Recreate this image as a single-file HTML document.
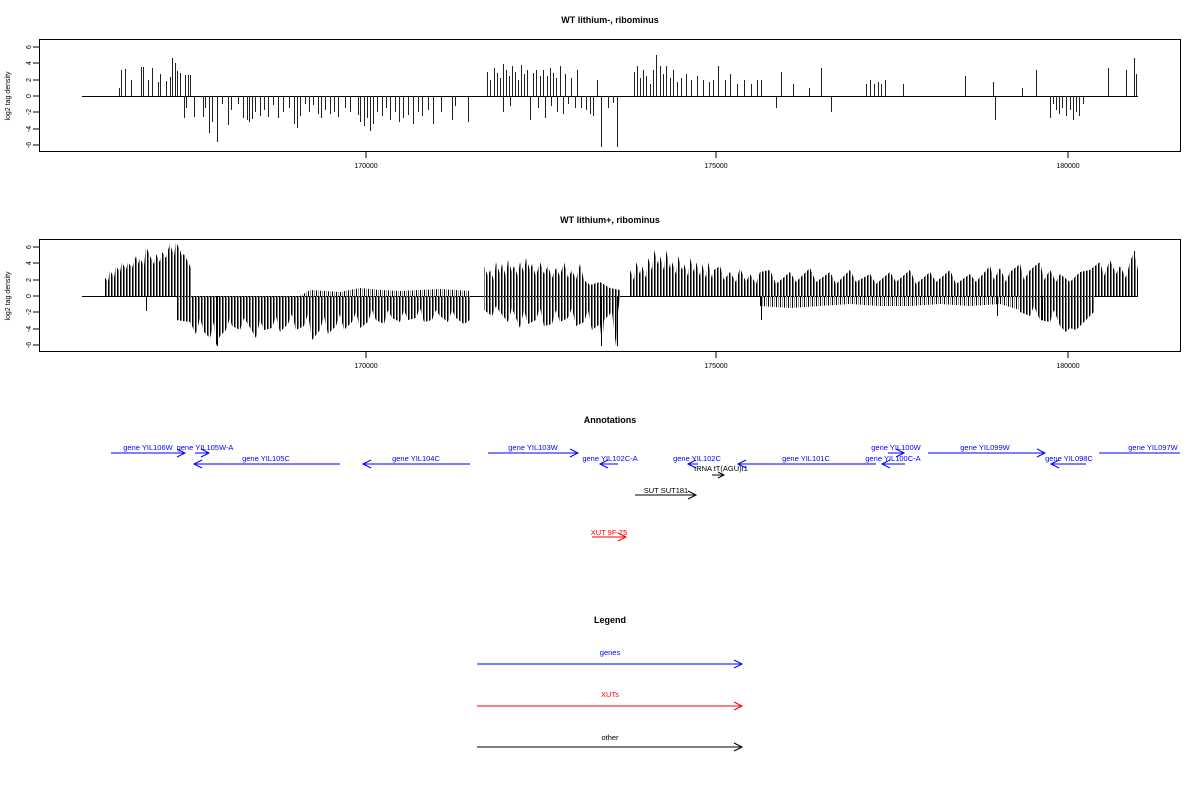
<!DOCTYPE html>
<html><head><meta charset="utf-8"><style>
body{margin:0;background:#fff}
svg{display:block;font-family:"Liberation Sans",sans-serif}
</style></head><body>
<svg width="1200" height="800" xmlns="http://www.w3.org/2000/svg">
<defs>
<pattern id="h" width="3" height="10" patternUnits="userSpaceOnUse"><rect x="0" y="0" width="1" height="10" fill="#000"/><rect x="1" y="0" width="1" height="10" fill="#777"/></pattern>
<pattern id="h2" width="4" height="10" patternUnits="userSpaceOnUse"><rect x="0" y="0" width="1" height="10" fill="#000"/><rect x="2" y="0" width="1" height="10" fill="#999"/></pattern>
</defs>
<g font-size="9" font-weight="bold" text-anchor="middle">
<text x="610" y="23">WT lithium-, ribominus</text>
<text x="610" y="223">WT lithium+, ribominus</text>
<text x="610" y="423">Annotations</text>
<text x="610" y="623">Legend</text>
</g>
<g fill="none" stroke="#000" stroke-width="1">
<rect x="39.5" y="39.5" width="1141" height="112"/>
<rect x="39.5" y="239.5" width="1141" height="112"/>
<path d="M33 47H39M33 63H39M33 80H39M33 96H39M33 112H39M33 129H39M33 145H39"/>
<path d="M33 247H39M33 263H39M33 280H39M33 296H39M33 312H39M33 329H39M33 345H39"/>
<path d="M366 152V158M716 152V158M1068 152V158M366 352V358M716 352V358M1068 352V358"/>
<path d="M82 96.5H1138M82 296.5H1138"/>
</g>
<g font-size="7" text-anchor="middle">
<text x="366" y="168">170000</text><text x="716" y="168">175000</text><text x="1068" y="168">180000</text>
<text x="366" y="368">170000</text><text x="716" y="368">175000</text><text x="1068" y="368">180000</text>
<text transform="translate(10,96) rotate(-90)">log2 tag density</text>
<text transform="translate(10,296) rotate(-90)">log2 tag density</text>
<g transform="translate(31,0)">
<text transform="translate(0,47) rotate(-90)" dy="0">6</text><text transform="translate(0,63) rotate(-90)">4</text><text transform="translate(0,80) rotate(-90)">2</text><text transform="translate(0,96) rotate(-90)">0</text><text transform="translate(0,112) rotate(-90)">-2</text><text transform="translate(0,129) rotate(-90)">-4</text><text transform="translate(0,145) rotate(-90)">-6</text>
<text transform="translate(0,247) rotate(-90)">6</text><text transform="translate(0,263) rotate(-90)">4</text><text transform="translate(0,280) rotate(-90)">2</text><text transform="translate(0,296) rotate(-90)">0</text><text transform="translate(0,312) rotate(-90)">-2</text><text transform="translate(0,329) rotate(-90)">-4</text><text transform="translate(0,345) rotate(-90)">-6</text>
</g>
</g>
<path fill="none" stroke="#222" stroke-width="1" d="M119.5 96V88M121.5 96V70M125.5 96V69M131.5 96V80M141.5 96V67M143.5 96V67M148.5 96V80M152.5 96V68M158.5 96V82M160.5 96V74M166.5 96V81M170.5 96V77M172.5 96V58M175.5 96V63M177.5 96V71M180.5 96V73M185.5 96V75M188.5 96V75M190.5 96V75
M184.5 96V118M186.5 96V108M194.5 96V117M203.5 96V117M205.5 96V108M209.5 96V133M212.5 96V122M217.5 96V142M222.5 96V104M228.5 96V125M231.5 96V110M238.5 96V104M243.5 96V118M247.5 96V120M249.5 96V122M252.5 96V119M255.5 96V112M260.5 96V116M264.5 96V110M268.5 96V117M273.5 96V105M278.5 96V118M283.5 96V112M289.5 96V108M294.5 96V124M297.5 96V128M300.5 96V116M305.5 96V104M309.5 96V112M313.5 96V105M318.5 96V114M321.5 96V118M325.5 96V110M330.5 96V114M334.5 96V112M338.5 96V117M345.5 96V108M350.5 96V112M358.5 96V115M360.5 96V122M364.5 96V126M367.5 96V118M370.5 96V131M373.5 96V124M377.5 96V112M382.5 96V116M386.5 96V108M390.5 96V120M395.5 96V112M399.5 96V122M403.5 96V118M408.5 96V115M413.5 96V124M418.5 96V112M422.5 96V116M428.5 96V110M433.5 96V124M441.5 96V112M452.5 96V120M455.5 96V106M468.5 96V122
M487.5 96V72M490.5 96V80M494.5 96V68M497.5 96V73M500.5 96V78M503.5 96V64M506.5 96V70M509.5 96V76M512.5 96V66M515.5 96V72M518.5 96V80M521.5 96V65M524.5 96V74M527.5 96V70M533.5 96V73M536.5 96V70M540.5 96V76M543.5 96V70M547.5 96V76M550.5 96V68M553.5 96V73M556.5 96V78M560.5 96V66M565.5 96V74M571.5 96V78M577.5 96V70
M503.5 96V112M510.5 96V106M530.5 96V120M538.5 96V108M545.5 96V118M551.5 96V106M557.5 96V112M563.5 96V114M568.5 96V104M575.5 96V108M581.5 96V108M586.5 96V110M590.5 96V114M593.5 96V116M597.5 96V80M601.5 96V147M608.5 96V108M613.5 96V103M617.5 96V147
M634.5 96V72M637.5 96V66M640.5 96V78M643.5 96V70M646.5 96V76M650.5 96V84M653.5 96V70M656.5 96V55M660.5 96V66M663.5 96V74M666.5 96V66M670.5 96V78M673.5 96V70M677.5 96V82M681.5 96V78M686.5 96V74M691.5 96V80M697.5 96V76M703.5 96V80M709.5 96V82M713.5 96V80M718.5 96V66M725.5 96V80M730.5 96V74M737.5 96V84M744.5 96V80M751.5 96V84M757.5 96V80M761.5 96V80M776.5 96V108M781.5 96V72M793.5 96V84M809.5 96V88M821.5 96V68M831.5 96V112M866.5 96V84M870.5 96V80M874.5 96V84M878.5 96V82M881.5 96V84M885.5 96V80M903.5 96V84M965.5 96V76M993.5 96V82M995.5 96V120M1022.5 96V88M1036.5 96V70M1050.5 96V118M1053.5 96V104M1056.5 96V110M1059.5 96V114M1062.5 96V108M1066.5 96V116M1070.5 96V110M1073.5 96V120M1076.5 96V112M1079.5 96V116M1083.5 96V104M1108.5 96V68M1126.5 96V70M1134.5 96V58M1136.5 96V74"/>
<g>
<polygon fill="url(#h)" points="104,296 104,276 108,282 110,270 114,278 116,266 120,272 122,262 126,270 128,262 132,268 136,256 138,264 140,258 144,266 146,246 150,256 154,264 156,254 160,262 162,252 166,258 168,250 170,244 174,256 176,242 180,250 182,256 184,254 188,262 191,268 191,296"/>
<polygon fill="url(#h)" points="176,296 176,320 190,322 196,334 200,318 204,332 210,338 214,322 216,346 220,336 226,330 230,318 232,326 240,330 244,318 248,324 256,338 260,320 264,330 272,328 276,316 280,332 288,324 292,314 296,330 304,326 308,314 312,340 320,330 324,316 328,334 336,326 340,314 344,330 352,322 356,312 360,328 368,322 372,310 376,320 384,324 388,310 392,318 400,322 404,310 408,320 416,318 420,308 424,322 432,320 436,310 440,316 448,322 452,310 456,318 464,324 470,320 470,296"/>
<polygon fill="url(#h2)" points="300,296 310,290 340,292 360,288 380,290 400,291 420,290 440,289 470,291 470,296"/>
<polygon fill="url(#h)" points="484,296 484,266 488,276 490,270 494,280 496,262 500,274 502,264 506,276 508,260 512,272 514,266 518,276 520,262 524,272 526,258 530,270 532,264 536,276 540,262 544,274 548,266 552,278 556,268 560,276 564,262 568,278 572,270 576,280 580,264 584,280 590,285 600,282 610,288 620,290 620,296"/>
<polygon fill="url(#h)" points="484,296 484,310 492,316 496,306 500,312 508,322 512,308 516,318 520,328 524,310 528,324 536,320 540,308 544,326 552,324 556,310 560,322 568,318 572,308 576,326 584,322 588,310 592,330 600,324 602,346 604,320 612,312 616,346 618,312 620,296"/>
<polygon fill="url(#h)" points="630,296 630,270 634,280 636,262 640,274 642,266 646,278 648,258 652,270 654,250 658,264 660,256 664,270 666,250 670,268 672,262 676,274 678,256 682,270 684,264 688,276 690,258 694,272 696,262 700,276 702,264 706,278 708,262 712,278 714,270 720,266 724,280 730,272 736,282 740,268 746,282 750,274 756,284 760,272 770,270 776,284 790,272 796,282 810,268 816,282 830,272 836,284 850,270 856,282 870,274 876,284 890,272 896,282 910,270 916,284 930,272 936,282 950,270 956,284 970,274 976,282 990,266 994,280 1000,268 1006,282 1010,272 1020,264 1024,280 1030,270 1040,262 1044,280 1050,270 1056,282 1060,274 1070,282 1080,272 1090,270 1100,262 1104,276 1110,260 1116,274 1120,266 1126,278 1130,262 1134,252 1138,270 1138,296"/>
<polygon fill="url(#h2)" points="760,296 760,306 790,308 820,306 850,304 880,306 910,306 940,304 970,306 1000,304 1020,310 1020,296"/>
<polygon fill="url(#h)" points="1020,296 1020,312 1030,316 1034,306 1040,320 1050,322 1054,310 1060,326 1066,332 1070,328 1076,330 1082,324 1088,318 1094,312 1095,296"/>
</g>
<path fill="none" stroke="#000" d="M601.5 296V346M617.5 296V346M217.5 296V346M1134.5 296V251M146.5 296V311M761.5 296V320M997.5 296V316M1042.5 296V320"/>
<g font-size="7.5" fill="#00f" text-anchor="middle">
<text x="148" y="450">gene YIL106W</text>
<text x="205" y="450">gene YIL105W-A</text>
<text x="266" y="461">gene YIL105C</text>
<text x="416" y="461">gene YIL104C</text>
<text x="533" y="450">gene YIL103W</text>
<text x="610" y="461">gene YIL102C-A</text>
<text x="697" y="461">gene YIL102C</text>
<text x="806" y="461">gene YIL101C</text>
<text x="896" y="450">gene YIL100W</text>
<text x="893" y="461">gene YIL100C-A</text>
<text x="985" y="450">gene YIL099W</text>
<text x="1069" y="461">gene YIL098C</text>
<text x="1153" y="450">gene YIL097W</text>
<text x="610" y="655">genes</text>
</g>
<g font-size="7.5" fill="#000" text-anchor="middle">
<text x="721" y="471">tRNA tT(AGU)I1</text>
<text x="666" y="493">SUT SUT181</text>
<text x="610" y="740">other</text>
</g>
<g font-size="7.5" fill="#f00" text-anchor="middle">
<text x="609" y="535">XUT 9F-75</text>
<text x="610" y="697">XUTs</text>
</g>
<g fill="none" stroke-width="1">
<g stroke="#00f">
<path d="M111 453H185M177 449l8 4-8 4"/>
<path d="M195 453H209M201 449l8 4-8 4"/>
<path d="M340 464H194M202 460l-8 4 8 4"/>
<path d="M470 464H363M371 460l-8 4 8 4"/>
<path d="M488 453H578M570 449l8 4-8 4"/>
<path d="M618 464H600M608 460l-8 4 8 4"/>
<path d="M698 464H688M696 460l-8 4 8 4"/>
<path d="M876 464H738M746 460l-8 4 8 4"/>
<path d="M888 453H904M896 449l8 4-8 4"/>
<path d="M905 464H882M890 460l-8 4 8 4"/>
<path d="M928 453H1045M1037 449l8 4-8 4"/>
<path d="M1086 464H1051M1059 460l-8 4 8 4"/>
<path d="M1099 453H1180"/>
<path d="M477 664H742M734 660l8 4-8 4"/>
</g>
<g stroke="#000">
<path d="M712 475H724M718 472l6 3-6 3"/>
<path d="M635 495H696M688 491l8 4-8 4"/>
<path d="M477 747H742M734 743l8 4-8 4"/>
</g>
<g stroke="#f00">
<path d="M592 537H626M618 533l8 4-8 4"/>
<path d="M477 706H742M734 702l8 4-8 4"/>
</g>
</g>
</svg>
</body></html>
